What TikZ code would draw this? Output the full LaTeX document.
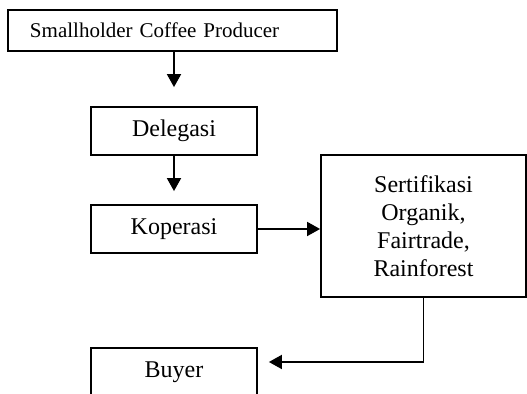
\documentclass[tikz,border=0pt]{standalone}
\usepackage{fontspec}
\setmainfont{Liberation Serif}
\usetikzlibrary{arrows.meta,positioning}

\begin{document}
\begin{tikzpicture}[x=0.5pt,y=-0.5pt,font=\fontsize{12}{14}\selectfont,every path/.style={line width=0.9pt},>={Triangle[length=6.5pt,width=7pt]},box/.style={draw,line width=0.9pt,inner sep=0pt,minimum width=83pt,minimum height=24pt}]
	\useasboundingbox (0,0) rectangle (527,394);

	\node (producer) at (172.5,30.5) [box,minimum width=164.5pt,minimum height=20.5pt,text width=142.5pt,align=left,inner xsep=11pt,font=\fontsize{10.5}{12}\selectfont] {Smallholder Coffee Producer};
	\node (delegasi) at (174,131) [box] {Delegasi};
	\node (koperasi) at (174,229) [box] {Koperasi};
	\node (cert) at (423.5,226) [box,align=center,minimum width=102.5pt,minimum height=71pt] {Sertifikasi\\Organik,\\Fairtrade,\\Rainforest};
	\node (buyer) at (174,372) [box] {Buyer};

	\draw[->] (producer.south -| delegasi.north) -- ([yshift=9.5pt]delegasi.north);
	\draw[->] (delegasi.south) -- ([yshift=6.5pt]koperasi.north);
	\draw[->] (koperasi.east) -- (koperasi.east -| cert.west);
	\draw[->] (cert.south) |- ([xshift=5.5pt,yshift=5pt]buyer.east);
\end{tikzpicture}
\end{document}
